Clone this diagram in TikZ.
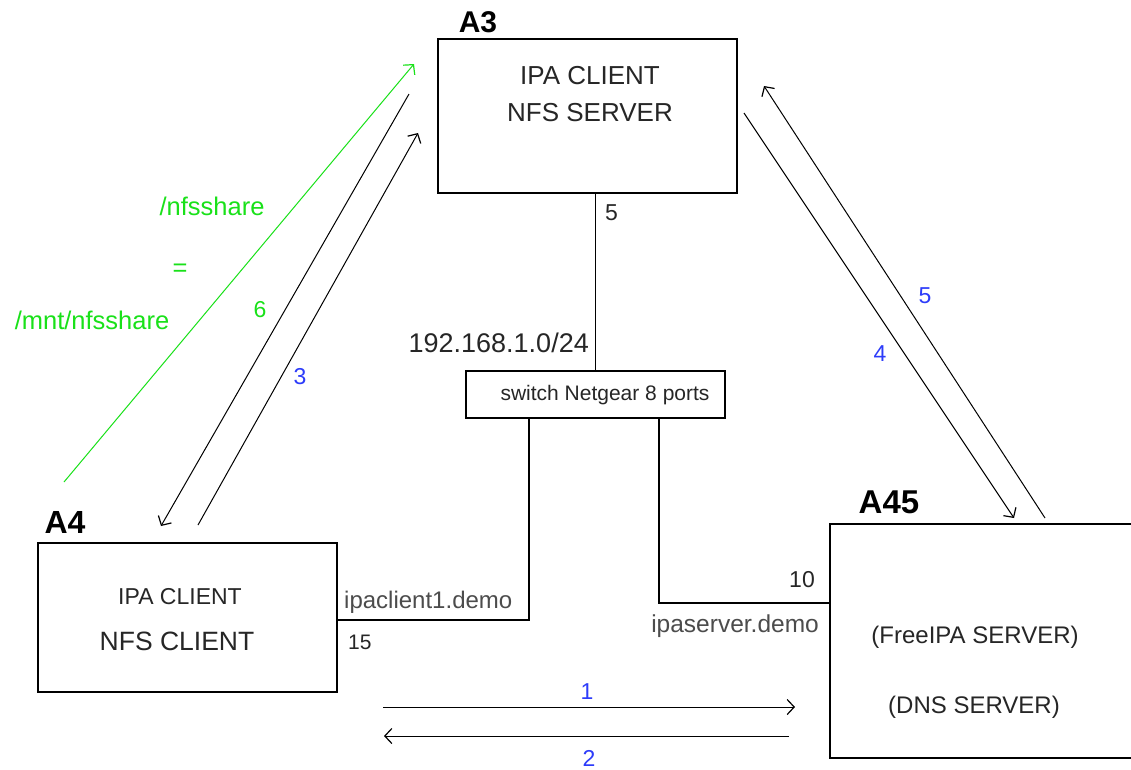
\documentclass[tikz,border=0pt]{standalone}
\usepackage{fontspec}
\setmainfont{Liberation Sans}
\usetikzlibrary{arrows.meta}
\definecolor{grn}{RGB}{25,225,25}
\definecolor{blu}{RGB}{45,60,250}
\newcommand\fsz[1]{\fontsize{#1}{#1}\selectfont}
\tikzset{
  box/.style={draw=black, line width=1.8pt, rectangle, inner sep=0pt},
  wire/.style={draw=black, line width=1.7pt},
  arr/.style={line width=1pt, -{Straight Barb[length=7pt,width=15pt,line width=1.2pt]}},
  lbl/.style={inner sep=0pt, text=black!85},
  big/.style={lbl, font=\bfseries\fsz{31}, text=black},
  num/.style={inner sep=0pt, text=blu, font=\fsz{23}},
  gtxt/.style={inner sep=0pt, text=grn, font=\fsz{25.5}},
}
\begin{document}
\begin{tikzpicture}[x=1pt,y=-1pt]
\useasboundingbox (0,0) rectangle (1131,769);
\clip (0,0) rectangle (1131,769);
\fill[white] (0,0) rectangle (1131,769);

% boxes
\node[box, minimum width=299pt, minimum height=154pt] (A3) at (587.5,116) {};
\node[box, minimum width=259pt, minimum height=47pt] (sw) at (595.5,394.5) {};
\node[box, minimum width=299pt, minimum height=149pt] (A4) at (187.5,617.5) {};
\node[box, minimum width=320pt, minimum height=234pt] (A45) at (990,641) {};

% titles
\node[big, font=\bfseries\fsz{30}] (tA3) at (478,22) {A3};
\node[big, font=\bfseries\fsz{32}] (tA4) at (65,522) {A4};
\node[big, font=\bfseries\fsz{33}] (tA45) at (889,502) {A45};

% box texts
\node[lbl, font=\fsz{26}] (t31) at (590,76) {IPA CLIENT};
\node[lbl, font=\fsz{26}] (t32) at (590,113) {NFS SERVER};
\node[lbl, font=\fsz{21}] (sws) at (605,395) {switch Netgear 8 ports};
\node[lbl, font=\fsz{23}] (t41) at (180,597) {IPA CLIENT};
\node[lbl, font=\fsz{26.5}] (t42) at (177,641) {NFS CLIENT};
\node[lbl, font=\fsz{24}] (t51) at (975,637) {(FreeIPA SERVER)};
\node[lbl, font=\fsz{24}] (t52) at (974,707) {(DNS SERVER)};

% network wiring
\coordinate (swL) at (529,418);
\coordinate (swR) at (659,418);
\draw[wire] (A3.south -| sw.north) -- (sw.north);
\draw[wire] (swL) |- (A4.east |- 0,620);
\draw[wire] (swR) |- (A45.west |- 0,603);

% wire labels
\node[lbl, font=\fsz{23}, anchor=west] (p5) at (605,213) {5};
\node[lbl, font=\fsz{27}, anchor=east] (net) at (589,343) {192.168.1.0/24};
\node[lbl, font=\fsz{24}, anchor=west, text=black!70] (ipc) at (344,602) {ipaclient1.demo};
\node[lbl, font=\fsz{21}, anchor=west] (p15) at (348,642) {15};
\node[lbl, font=\fsz{23}, anchor=east] (p10) at (815,580) {10};
\node[lbl, font=\fsz{24.5}, anchor=east, text=black!70] (ips) at (819,626) {ipaserver.demo};

% flows 1 / 2
\coordinate (f1a) at (383,707);
\coordinate (f1b) at (795,707);
\coordinate (f2a) at (789,736);
\coordinate (f2b) at (384,736);
\draw[arr] (f1a) -- (f1b);
\draw[arr] (f2a) -- (f2b);
\node[num] (n1) at (587,692) {1};
\node[num] (n2) at (589,758) {2};

% flows A4 <-> A3
\coordinate (g0) at (64,482);
\coordinate (g1) at (414,64);
\draw[arr, draw=grn] (g0) -- (g1);
\coordinate (k6a) at (409,94);
\coordinate (k6b) at (161,526);
\draw[arr] (k6a) -- (k6b);
\coordinate (k3a) at (198,525);
\coordinate (k3b) at (418,133);
\draw[arr] (k3a) -- (k3b);
\node[gtxt] (ns1) at (212,206) {/nfsshare};
\node[gtxt] (eq) at (180,270) {=};
\node[gtxt] (ns2) at (92,320) {/mnt/nfsshare};
\node[gtxt, font=\fsz{23}] (n6) at (260,310) {6};
\node[num] (n3) at (300,377) {3};

% flows A3 <-> A45
\coordinate (k4a) at (744,113);
\coordinate (k4b) at (1014,518);
\draw[arr] (k4a) -- (k4b);
\coordinate (k5a) at (1045,518);
\coordinate (k5b) at (764,86);
\draw[arr] (k5a) -- (k5b);
\node[num] (n5) at (925,296) {5};
\node[num] (n4) at (880,354) {4};
\end{tikzpicture}
\end{document}
